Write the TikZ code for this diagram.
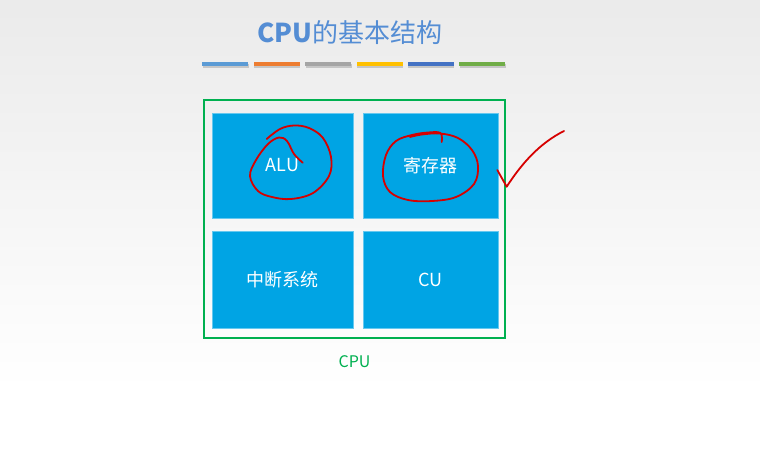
\documentclass[tikz,border=0pt]{standalone}
\usepackage{fontspec}
\setmainfont{Noto Sans CJK SC}
\usetikzlibrary{positioning}
\definecolor{titleblue}{RGB}{84,141,212}
\definecolor{unitblue}{RGB}{0,164,228}
\definecolor{cpugreen}{RGB}{0,176,80}
\definecolor{penred}{RGB}{214,0,0}
\definecolor{barblue}{RGB}{91,155,213}
\definecolor{barorange}{RGB}{237,125,49}
\definecolor{bargray}{RGB}{165,165,165}
\definecolor{bargold}{RGB}{255,192,0}
\definecolor{bardarkblue}{RGB}{68,114,196}
\definecolor{bargreen}{RGB}{112,173,71}

\begin{document}
\begin{tikzpicture}[x=1pt,y=-1pt,
  unit/.style={rectangle,fill=unitblue,draw=unitblue!60!white,line width=0.4pt,
    minimum height=105pt,text=white,font=\fontsize{18}{21}\selectfont,inner sep=0pt},
  redpen/.style={draw=penred,line width=1.8pt,line cap=round,line join=round}]

  % background
  \useasboundingbox (0,0) rectangle (760,451);
  \fill[white] (0,0) rectangle (760,451);
  \shade[top color=gray!16,bottom color=white] (0,0) rectangle (760,390);

  % title and colour bars
  \node[text=titleblue,font=\fontsize{26}{30}\selectfont] (title) at (350,33)
    {\textbf{CPU}的基本结构};
  \foreach \c [count=\i] in {barblue,barorange,bargray,bargold,bardarkblue,bargreen}{
    \fill[gray!45] (202.8+\i*51.4-51.4,63.6) rectangle ++(46,4);
    \fill[\c] (202.3+\i*51.4-51.4,62.3) rectangle ++(46,4);
  }

  % cpu frame
  \node[rectangle,draw=cpugreen,line width=2pt,minimum width=301pt,minimum height=237.5pt,
    inner sep=0pt] (cpu) at (354.5,218.8) {};
  \node[text=cpugreen,font=\fontsize{16}{19}\selectfont,below=13pt of cpu] (cpulabel) {CPU};

  % units
  \node[unit,minimum width=140.5pt] (alu) at (282.5,165.2) {ALU};
  \node[unit,minimum width=134.6pt,right=10pt of alu] (reg) {寄存器};
  \node[unit,minimum width=140.5pt,minimum height=97.3pt,below=13pt of alu] (intr) {中断系统};
  \node[unit,minimum width=134.6pt,minimum height=97.3pt,right=10pt of intr] (cu) {CU};

  % red marks
  \draw[redpen] plot[smooth,tension=0.6] coordinates {(302.7,162.7) (294,154) (287,141)
    (279,137.5) (268,144) (256,160) (250,176) (258,191) (272,197) (291,199) (313,193)
    (329,176) (331,157) (323,138) (309,128) (294,125.5) (280,129) (266.7,139)};
  \draw[redpen] plot[smooth,tension=0.6] coordinates {(441.7,142) (440.5,133) (428,132.5)
    (412,135) (396,141) (386,155) (383,176) (390,192) (408,200) (432,201) (456,197)
    (474,184) (478,166) (472,150) (458,138) (440,133.5) (422,134.5) (410,137)};
  \draw[redpen] (497.3,170) -- (506.7,186.7) .. controls (522,163) and (540,143) .. (564,131);

\end{tikzpicture}
\end{document}
